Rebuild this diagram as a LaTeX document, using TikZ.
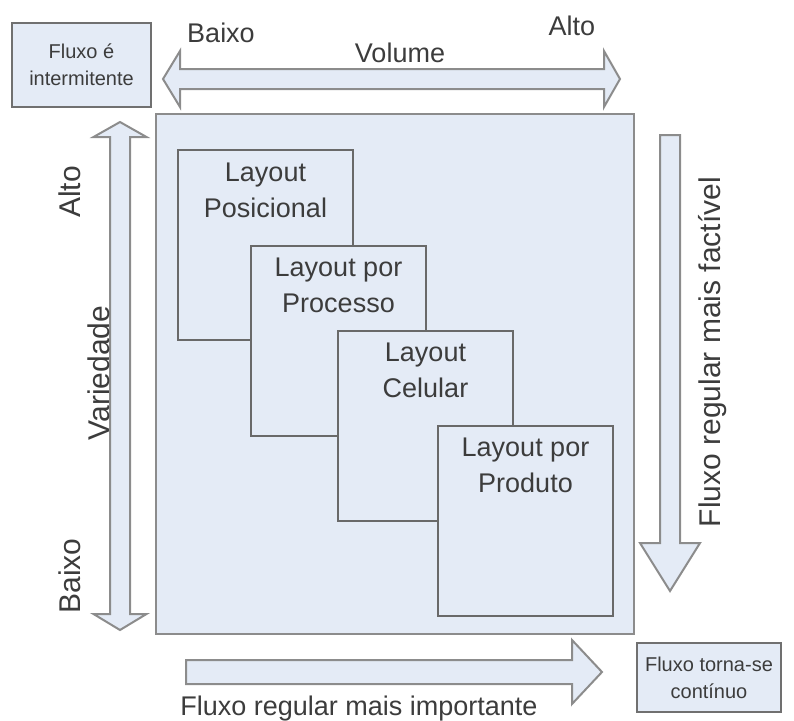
\documentclass[tikz,border=0pt]{standalone}
\usepackage{fontspec}
\setmainfont{Liberation Sans}
\definecolor{panel}{HTML}{E4EBF6}
\definecolor{edge}{HTML}{8C8C8C}
\definecolor{ink}{HTML}{3C3C3C}

\begin{document}
\begin{tikzpicture}[x=0.5pt,y=-0.5pt]
            \tikzset{panelbox/.style={draw=edge, fill=panel, line width=1pt}}
            \tikzset{layoutbox/.style={panelbox, draw=edge!75!black, anchor=north west, minimum width=87.5pt, minimum height=95pt, inner sep=0pt}}
            \tikzset{boxtext/.style={anchor=north, inner sep=0pt, align=center, text=ink, font=\fontsize{13.5}{18}\selectfont}}
            \tikzset{notebox/.style={panelbox, draw=edge!80!black, align=center, text=ink, inner sep=0pt, font=\fontsize{10}{13.5}\selectfont}}
            \tikzset{axislabel/.style={text=ink, inner sep=0pt, font=\fontsize{13.5}{16}\selectfont}}
            \tikzset{sidelabel/.style={text=ink, inner sep=0pt, rotate=90, font=\fontsize{15}{18}\selectfont}}
            \tikzset{blockarrow/.style={panelbox, line join=miter}}
            \useasboundingbox (0,0) rectangle (794,720);
            % outer frame
            \node[panelbox, anchor=north west, minimum width=239pt, minimum height=260pt, inner sep=0pt] (frame) at (155,113) {};
            % the four layouts
            \node[layoutbox] (posicional) at (177,149) {};
            \node[boxtext] (posicionaltxt) at ([yshift=-7pt]posicional.north) {Layout\\Posicional};
            \node[layoutbox] (processo) at (250,245) {};
            \node[boxtext] (processotxt) at ([yshift=-6.5pt]processo.north) {Layout por\\Processo};
            \node[layoutbox] (celular) at (337,330) {};
            \node[boxtext] (celulartxt) at ([yshift=-6.5pt]celular.north) {Layout\\Celular};
            \node[layoutbox] (produto) at (437,425) {};
            \node[boxtext] (produtotxt) at ([yshift=-6.5pt]produto.north) {Layout por\\Produto};
            % corner notes
            \node[notebox, minimum width=69.5pt, minimum height=42pt] (intermitente) at (81.5,65) {Fluxo é\\intermitente};
            \node[notebox, minimum width=72pt, minimum height=34.5pt] (continuo) at (709,677.5) {Fluxo torna-se\\contínuo};
            % volume
            \draw[blockarrow] (163,79) -- (180,51) -- (180,69) -- (604,69) -- (604,51) -- (620,79)
                -- (604,107) -- (604,89) -- (180,89) -- (180,107) -- cycle;
            \node[axislabel, anchor=base] (volbaixo) at (221,42) {Baixo};
            \node[axislabel, anchor=base] (volalto) at (572,35) {Alto};
            \node[axislabel, anchor=base] (volume) at (400,62) {Volume};
            % variedade
            \draw[blockarrow] (120,122) -- (146.5,137) -- (130,137) -- (130,614) -- (146.5,614) -- (120,630)
                -- (93.5,614) -- (110,614) -- (110,137) -- (93.5,137) -- cycle;
            \node[sidelabel] (varalto) at (70,192) {Alto};
            \node[sidelabel] (variedade) at (99,373) {Variedade};
            \node[sidelabel] (varbaixo) at (70,576) {Baixo};
            % fluxo regular
            \draw[blockarrow] (660,135) -- (680,135) -- (680,543) -- (700,543) -- (670,591) -- (640,543) -- (660,543) -- cycle;
            \node[sidelabel, anchor=base] (factivel) at (720,352) {Fluxo regular mais factível};
            \draw[blockarrow] (186,660) -- (572,660) -- (572,640) -- (602,672) -- (572,704) -- (572,684) -- (186,684) -- cycle;
            \node[axislabel, anchor=base] (importante) at (359,715) {Fluxo regular mais importante};
\end{tikzpicture}
\end{document}
